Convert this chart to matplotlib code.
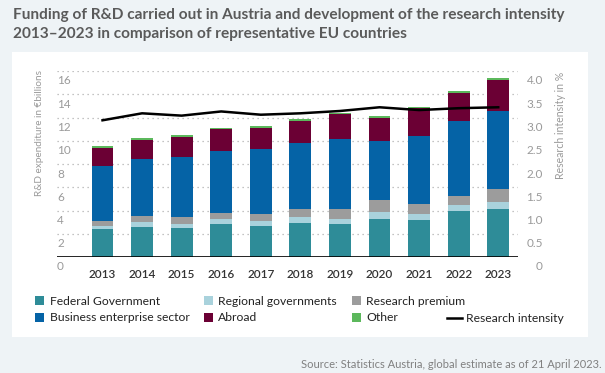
import matplotlib
matplotlib.use("Agg")
import matplotlib.pyplot as plt
import matplotlib.transforms as mtransforms
from matplotlib.patches import Rectangle, Patch
from matplotlib.lines import Line2D
import numpy as np

plt.rcParams['font.family'] = ['Lato', 'DejaVu Sans']

years = ["2013", "2014", "2015", "2016", "2017", "2018",
         "2019", "2020", "2021", "2022", "2023"]
federal = [2.40, 2.57, 2.51, 2.86, 2.69, 2.94, 2.86, 3.31, 3.17, 3.94, 4.14]
regional = [0.29, 0.46, 0.32, 0.43, 0.37, 0.49, 0.43, 0.58, 0.54, 0.57, 0.63]
premium = [0.40, 0.48, 0.57, 0.48, 0.60, 0.68, 0.82, 1.00, 0.89, 0.75, 1.12]
business = [4.74, 4.89, 5.17, 5.37, 5.60, 5.66, 6.00, 5.05, 5.83, 6.40, 6.68]
abroad = [1.57, 1.69, 1.74, 1.83, 1.83, 1.89, 2.15, 2.03, 2.37, 2.43, 2.63]
other = [0.11, 0.17, 0.15, 0.14, 0.20, 0.25, 0.14, 0.20, 0.09, 0.20, 0.23]
intensity = [2.94, 3.09, 3.04, 3.13, 3.06, 3.09, 3.14, 3.22, 3.16, 3.20, 3.22]

series = [
    ("Federal Government", federal, "#2e8c98"),
    ("Regional governments", regional, "#a9d2dc"),
    ("Research premium", premium, "#9c9c9c"),
    ("Business enterprise sector", business, "#0563a6"),
    ("Abroad", abroad, "#6b0034"),
    ("Other", other, "#5cb85c"),
]

fig = plt.figure(figsize=(6.05, 3.73), dpi=100)
fig.patch.set_facecolor("#eef3f6")
fig.patches.append(Rectangle((12 / 605, 36 / 373), 576 / 605, 285 / 373,
                             transform=fig.transFigure, facecolor="white",
                             edgecolor="none", zorder=-1))

ax = fig.add_axes([57 / 605, 116 / 373, 461 / 605, 186 / 373])
ax.set_facecolor("none")
x = np.arange(len(years))
bottom = np.zeros(len(years))
for name, vals, col in series:
    ax.bar(x, vals, 0.55, bottom=bottom, color=col, label=name, zorder=3)
    bottom += np.array(vals)

ax.set_xlim(-1.15, 10.5)
ax.set_ylim(0, 16)
for s in ax.spines.values():
    s.set_visible(False)
ax.axhline(0, color="black", lw=1.2, zorder=4)
ax.set_yticks(np.arange(0, 17, 2))
ax.yaxis.grid(True, linestyle=(0, (1, 3)), color="#b0b0b0", lw=0.9, zorder=0)
ax.tick_params(axis="y", length=0, pad=0, labelsize=8.5, labelcolor="#9a9a9a")
off = mtransforms.ScaledTranslation(0, -9 / 100, fig.dpi_scale_trans)
for lab in ax.get_yticklabels():
    lab.set_horizontalalignment("left")
    lab.set_transform(lab.get_transform() + off)
ax.set_xticks(x)
ax.set_xticklabels(years)
ax.tick_params(axis="x", length=0, pad=9, labelsize=8.5, labelcolor="#333333")
for lab in ax.get_xticklabels():
    lab.set_fontweight("semibold")

ax2 = ax.twinx()
ax2.set_ylim(0, 4)
for s in ax2.spines.values():
    s.set_visible(False)
ax2.plot(x, intensity, color="black", lw=1.8, zorder=5)
ax2.set_yticks(np.arange(0, 4.01, 0.5))
ax2.set_yticklabels(["0"] + ["%.1f" % v for v in np.arange(0.5, 4.01, 0.5)])
ax2.tick_params(axis="y", length=0, pad=18, labelsize=8.5, labelcolor="#9a9a9a")
for lab in ax2.get_yticklabels():
    lab.set_horizontalalignment("right")
    lab.set_transform(lab.get_transform() + off)

fig.text(40 / 605, 1 - 70 / 373, "R&D expenditure in €billions", rotation=90,
         ha="center", va="top", fontsize=7.2, color="#9a9a9a")
fig.text(560 / 605, 1 - 72 / 373, "Research intensity in %", rotation=90,
         ha="center", va="top", fontsize=7.6, color="#9a9a9a")

fig.text(13 / 605, 1 - 15 / 373,
         "Funding of R&D carried out in Austria and development of the research intensity",
         ha="left", va="center", fontsize=11.1, fontweight="bold", color="#5a5a5a")
fig.text(13 / 605, 1 - 34 / 373,
         "2013\u20132023 in comparison of representative EU countries",
         ha="left", va="center", fontsize=11.1, fontweight="bold", color="#5a5a5a")

# legend fills column by column
order = [0, 3, 1, 4, 2, 5]
handles = [Patch(facecolor=series[i][2], label=series[i][0]) for i in order]
fig.legend(handles=handles, ncol=3, loc="upper left",
           bbox_to_anchor=(35 / 605, 1 - 296 / 373), frameon=False,
           fontsize=8.7, handlelength=0.75, handleheight=0.75,
           handletextpad=0.45, columnspacing=1.2, labelspacing=0.45,
           borderpad=0, borderaxespad=0, labelcolor="#222222")
fig.legend(handles=[Line2D([], [], color="black", lw=1.8, label="Research intensity")],
           loc="upper left", bbox_to_anchor=(447 / 605, 1 - 313 / 373),
           frameon=False, fontsize=8.7, handlelength=1.2, handletextpad=0.4,
           borderpad=0, borderaxespad=0, labelcolor="#222222")

fig.text(602 / 605, 1 - 364 / 373,
         "Source: Statistics Austria, global estimate as of 21 April 2023.",
         ha="right", va="center", fontsize=8, color="#808080")

fig.savefig("out.png", dpi=100, facecolor=fig.get_facecolor())
